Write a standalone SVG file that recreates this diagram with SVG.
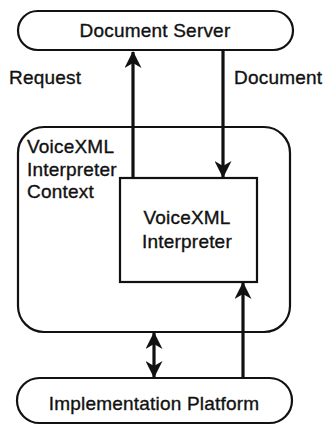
<svg xmlns="http://www.w3.org/2000/svg" width="323" height="434" viewBox="0 0 323 434">
<defs>
<style>
.box{fill:#fff;stroke:#111;stroke-width:2.2}
.t{font-family:"Liberation Sans",Arial,sans-serif;font-size:19px;letter-spacing:0.2px;fill:#111;stroke:#111;stroke-width:0.35}
.c{stroke:#111;stroke-width:3.2;fill:none}
</style>
<marker id="ah" markerUnits="userSpaceOnUse" markerWidth="17" markerHeight="17" viewBox="0 0 17 17" refX="16" refY="8.5" orient="auto-start-reverse">
<path d="M0,0 L17,8.5 L0,17 L5,8.5 z" fill="#111"/>
</marker>
</defs>
<rect width="323" height="434" fill="#fff"/>
<g id="document-server">
<rect class="box" x="18" y="11" width="275" height="39" rx="19.5"/>
<text class="t" x="155" y="37" text-anchor="middle">Document Server</text>
</g>
<g id="context">
<rect class="box" x="18" y="127" width="272" height="205" rx="26"/>
<text class="t" x="27" y="153">VoiceXML</text>
<text class="t" x="27" y="176">Interpreter</text>
<text class="t" x="27" y="198">Context</text>
</g>
<g id="interpreter">
<rect class="box" x="120" y="178" width="137" height="104"/>
<text class="t" x="187" y="224" text-anchor="middle">VoiceXML</text>
<text class="t" x="187" y="248" text-anchor="middle">Interpreter</text>
</g>
<g id="platform">
<rect class="box" x="17" y="378" width="275" height="45" rx="22.5"/>
<text class="t" x="154" y="410" text-anchor="middle">Implementation Platform</text>
</g>
<g id="labels">
<text class="t" x="9" y="84">Request</text>
<text class="t" x="234" y="84">Document</text>
</g>
<g id="connectors">
<line class="c" x1="133" y1="178" x2="133" y2="52" marker-end="url(#ah)"/>
<line class="c" x1="223" y1="51" x2="223" y2="177" marker-end="url(#ah)"/>
<line class="c" x1="243" y1="378" x2="243" y2="283" marker-end="url(#ah)"/>
<line class="c" x1="154" y1="333" x2="154" y2="377" marker-start="url(#ah)" marker-end="url(#ah)"/>
</g>
</svg>
